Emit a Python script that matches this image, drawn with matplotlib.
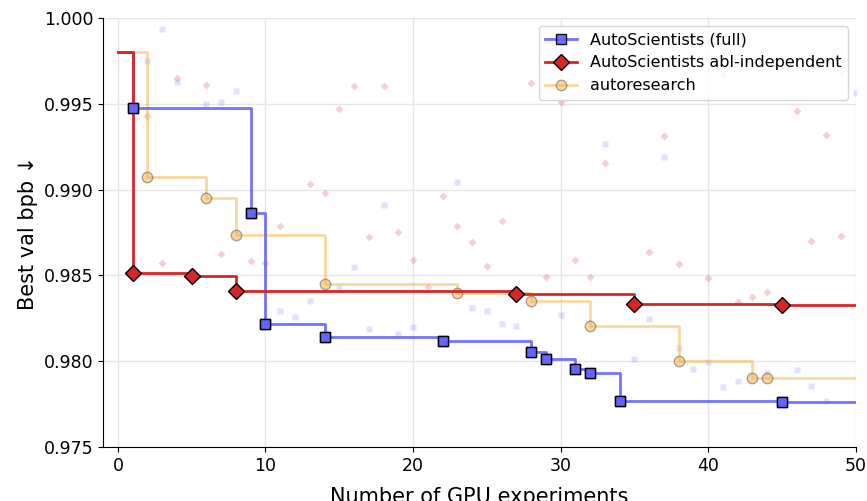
import numpy as np
import matplotlib.pyplot as plt

# starting value shared by all three runs (experiment 0)
baseline = 0.998

# AutoScientists (full): improvements
full_x = [1, 9, 10, 14, 22, 28, 29, 31, 32, 34, 45]
full_y = [0.99477, 0.98864, 0.98216, 0.98140, 0.98117, 0.98052, 0.98014,
          0.97953, 0.97930, 0.97767, 0.97761]
# AutoScientists (full): non-improving experiments
full_sx = [2, 3, 4, 6, 7, 8, 11, 12, 13, 15, 16, 17, 18, 19, 20, 23, 24, 25,
           26, 27, 30, 33, 35, 36, 37, 38, 39, 40, 41, 42, 44, 46, 47, 48, 49, 50]
full_sy = [0.99752, 0.99936, 0.99629, 0.99499, 0.99512, 0.99576, 0.98293,
           0.98258, 0.98351, 0.98428, 0.98548, 0.98188, 0.98910, 0.98159,
           0.98198, 0.99044, 0.98311, 0.98293, 0.98217, 0.98206, 0.98270,
           0.99267, 0.98013, 0.98246, 0.99192, 0.98078, 0.97955, 0.97996,
           0.97850, 0.97885, 0.97932, 0.97949, 0.97857, 0.97770, 0.99690,
           0.99565]

# AutoScientists abl-independent: improvements
abl_x = [1, 5, 8, 27, 35, 45]
abl_y = [0.98513, 0.98498, 0.98407, 0.98389, 0.98335, 0.98327]
# abl-independent: non-improving experiments
abl_sx = [2, 3, 4, 6, 7, 9, 10, 11, 13, 14, 15, 16, 17, 18, 19, 20, 21, 22,
          23, 24, 25, 26, 28, 29, 30, 31, 32, 33, 36, 37, 38, 40, 41, 42, 43,
          44, 46, 47, 48, 49]
abl_sy = [0.99427, 0.98570, 0.99650, 0.99608, 0.98626, 0.98585, 0.98570,
          0.98786, 0.99033, 0.98980, 0.99470, 0.99604, 0.98723, 0.99602,
          0.98755, 0.98589, 0.98432, 0.98963, 0.98786, 0.98692, 0.98552,
          0.98817, 0.99623, 0.98492, 0.99510, 0.98591, 0.98488, 0.99153,
          0.98636, 0.99312, 0.98565, 0.98487, 0.99668, 0.98347, 0.98376,
          0.98405, 0.99458, 0.98702, 0.99318, 0.98731]

# autoresearch: improvements
ar_x = [2, 6, 8, 14, 23, 28, 32, 38, 43, 44]
ar_y = [0.99072, 0.98953, 0.98738, 0.98449, 0.98400, 0.98351, 0.98204,
        0.98000, 0.97901, 0.97901]

n_max = 50
c_full = '#6464ff'
c_abl = '#d62728'
c_ar = '#f5b041'


def step_series(xs, ys):
    sx = [0] + xs + [n_max]
    sy = [baseline] + ys + [ys[-1]]
    return sx, sy


fig = plt.figure(figsize=(8.67, 5.01), dpi=100)
ax = fig.add_axes([0.119, 0.108, 0.868, 0.856])

# individual experiments (faint)
ax.plot(full_sx, full_sy, 's', color=c_full, alpha=0.2, ms=4.5, mec='none', zorder=1)
ax.plot(abl_sx, abl_sy, 'D', color=c_abl, alpha=0.22, ms=4.5, mec='none', zorder=1)

# best-so-far curves
sx, sy = step_series(full_x, full_y)
ax.step(sx, sy, where='post', color=c_full, lw=2, alpha=0.9, marker='s', ms=7.5,
        mfc=c_full, mec='black', mew=1, markevery=list(range(1, len(sx) - 1)),
        label='AutoScientists (full)', zorder=3)

sx, sy = step_series(abl_x, abl_y)
ax.step(sx, sy, where='post', color=c_abl, lw=2, marker='D', ms=8.5,
        mfc=c_abl, mec='black', mew=1, markevery=list(range(1, len(sx) - 1)),
        label='AutoScientists abl-independent', zorder=4)

# keep the blue markers above the red line
ax.plot(full_x, full_y, 's', ms=7.5, mfc=c_full, mec='black', mew=1, zorder=5)

sx, sy = step_series(ar_x, ar_y)
ax.step(sx, sy, where='post', color=c_ar, lw=2, alpha=0.5, marker='o', ms=7.5,
        mfc=c_ar, mec='#555555', mew=1, markevery=list(range(1, len(sx) - 1)),
        label='autoresearch', zorder=2)

ax.set_xlim(-1, 50)
ax.set_ylim(0.975, 1.0)
ax.set_xticks([0, 10, 20, 30, 40, 50])
ax.set_yticks([0.975, 0.980, 0.985, 0.990, 0.995, 1.000])
ax.set_yticklabels(['%.3f' % v for v in [0.975, 0.980, 0.985, 0.990, 0.995, 1.000]])
ax.tick_params(labelsize=12.5)
ax.grid(True, color='#e6e6e6', lw=1)
ax.set_axisbelow(True)
for s in ['top', 'right']:
    ax.spines[s].set_visible(False)

ax.set_xlabel('Number of GPU experiments', fontsize=15, labelpad=9)
ax.set_ylabel('Best val bpb \u2193', fontsize=15)
ax.legend(loc='upper right', fontsize=11.5, borderaxespad=0.5)

fig.savefig('out.png', dpi=100)
